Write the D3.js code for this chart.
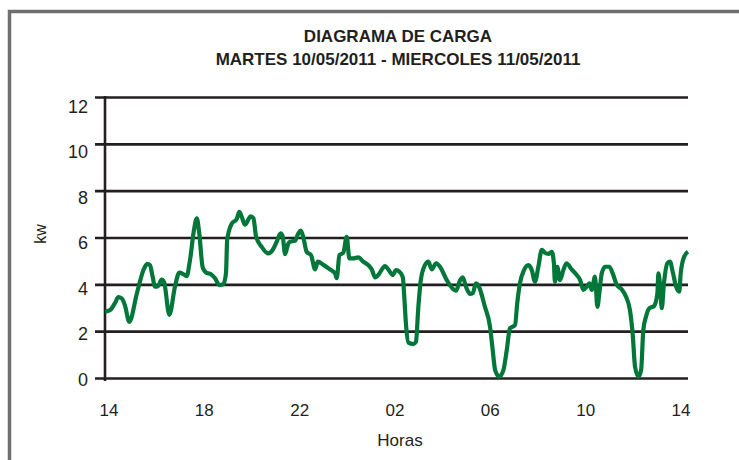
<!DOCTYPE html>
<html>
<head>
<meta charset="utf-8">
<script src="https://cdn.jsdelivr.net/npm/d3@7"></script>
<style>
  html, body { margin: 0; padding: 0; background: #fff; }
  svg text { font-family: "Liberation Sans", Arial, sans-serif; fill: #231f20; }
</style>
</head>
<body>
<div id="chart"></div>
<script>
// hours since 14:00 on Tuesday, and load in kW
var hours = [
  0, 0.21, 0.41, 0.55, 0.69, 0.82, 1.0, 1.31, 1.58, 1.74, 1.85, 1.96, 2.06, 2.19,
  2.33, 2.43, 2.65, 2.88, 3.06, 3.22, 3.36, 3.5, 3.66, 3.78, 3.88, 4.02, 4.16, 4.35,
  4.53, 4.71, 4.87, 4.98, 5.03, 5.22, 5.42, 5.53, 5.64, 5.76, 6.0, 6.11, 6.22, 6.45,
  6.72, 6.9, 7.07, 7.23, 7.32, 7.41, 7.55, 7.62, 7.82, 7.96, 8.06, 8.16, 8.3, 8.48,
  8.65, 8.76, 8.99, 9.26, 9.47, 9.54, 9.65, 9.81, 9.95, 10.06, 10.22, 10.43, 10.63,
  10.88, 10.98, 11.12, 11.25, 11.53, 11.66, 11.84, 11.98, 12.12, 12.26, 12.32, 12.39,
  12.49, 12.69, 12.8, 12.9, 13.0, 13.17, 13.31, 13.45, 13.63, 13.79, 14.07, 14.34,
  14.45, 14.62, 14.73, 14.86, 15.03, 15.14, 15.27, 15.37, 15.64, 15.85, 15.96, 16.06,
  16.23, 16.4, 16.54, 16.67, 16.88, 16.97, 17.08, 17.25, 17.43, 17.57, 17.7, 17.84,
  17.98, 18.11, 18.25, 18.39, 18.48, 18.52, 18.62, 18.73, 18.87, 19.0, 19.21, 19.42,
  19.56, 19.69, 19.83, 19.94, 20.04, 20.17, 20.27, 20.35, 20.45, 20.59, 20.76, 20.9,
  21.07, 21.27, 21.45, 21.61, 21.72, 21.82, 21.96, 22.07, 22.16, 22.27, 22.41, 22.6,
  22.74, 22.78, 22.85, 22.92, 23.01, 23.15, 23.26, 23.37, 23.51, 23.64, 23.7, 23.84, 24.0
];
var kw = [
  2.83, 2.9, 3.2, 3.45, 3.4, 3.1, 2.4, 3.6, 4.6, 4.87, 4.82, 4.33, 3.9, 3.93,
  4.2, 4.1, 2.7, 3.9, 4.5, 4.44, 4.35, 5.04, 6.3, 6.82, 6.18, 4.73, 4.5, 4.44,
  4.26, 3.97, 4.0, 4.47, 5.9, 6.6, 6.78, 7.1, 6.85, 6.55, 6.9, 6.82, 6.03, 5.6,
  5.32, 5.47, 5.82, 6.18, 6.03, 5.29, 5.75, 5.82, 5.86, 6.18, 6.29, 6.03, 5.39, 5.25,
  4.64, 4.97, 4.83, 4.64, 4.47, 4.26, 5.25, 5.35, 6.03, 5.11, 5.11, 5.15, 4.97,
  4.78, 4.64, 4.3, 4.4, 4.78, 4.64, 4.4, 4.61, 4.54, 4.3, 3.47, 2.3,
  1.51, 1.45, 1.55, 3.04, 4.18, 4.82, 4.97, 4.64, 4.9, 4.75, 4.18, 3.79,
  3.73, 4.18, 4.3, 3.9, 3.59, 3.62, 4.04, 3.95, 3.04, 2.19, 1.2, 0.34,
  0.06, 0.34, 1.2, 2.12, 2.26, 3.19, 4.04, 4.61, 4.82, 4.61, 4.11, 4.75,
  5.47, 5.35, 5.3, 5.39, 4.9, 4.11, 4.75, 4.18, 4.61, 4.9, 4.64, 4.4,
  4.18, 3.76, 3.9, 4.04, 3.76, 4.33, 3.04, 3.62, 4.47, 4.75, 4.75, 4.47,
  3.97, 3.79, 3.47, 2.9, 1.91, 0.48, 0.06, 0.34, 2.05, 2.62, 2.98, 3.07,
  3.62, 4.47, 3.97, 2.98, 4.04, 4.9, 4.97, 4.54, 3.9, 3.69, 4.47, 5.18, 5.39
];

var xTickLabels = ["14", "18", "22", "02", "06", "10", "14"];
var xTickHours = [0, 4, 8, 12, 16, 20, 24];
var yTicks = [0, 2, 4, 6, 8, 10, 12];

var titleLines = ["DIAGRAMA DE CARGA", "MARTES 10/05/2011 - MIERCOLES 11/05/2011"];

document.addEventListener("DOMContentLoaded", function() {
  var W = 739, H = 460;
  var plot = {left: 105, right: 688, top: 97, bottom: 378};
  var ink = "#231f20";
  var green = "#03773a";

  var svg = d3.select("#chart").append("svg")
      .attr("width", W)
      .attr("height", H);

  // grey frame, top and left only
  svg.append("path")
    .attr("d", "M9.5,460 L9.5,11.5 L739,11.5")
    .attr("fill", "none")
    .attr("stroke", "#6f6f6f")
    .attr("stroke-width", 3.5);

  var x = d3.scaleLinear().domain([0, 24]).range([plot.left, plot.right]);
  var y = d3.scaleLinear().domain([0, 12]).range([plot.bottom, plot.top]);

  // the tick labels in the original sit a little inside the grid
  var xLab = d3.scaleLinear().domain([0, 24]).range([109, 681]);
  var yLab = d3.scaleLinear().domain([0, 12]).range([379.5, 106.5]);

  // horizontal grid lines via an axis
  var grid = svg.append("g")
    .attr("transform", "translate(" + (plot.left - 10) + ",0)")
    .call(d3.axisLeft(y)
      .tickValues(yTicks)
      .tickSize(-(plot.right - plot.left + 10))
      .tickFormat(""));
  grid.select(".domain").remove();
  grid.selectAll(".tick line")
    .attr("stroke", ink)
    .attr("stroke-width", 2.6);

  // vertical axis line
  svg.append("line")
    .attr("x1", x(0)).attr("x2", x(0))
    .attr("y1", y(12) - 1).attr("y2", y(0) + 3)
    .attr("stroke", ink)
    .attr("stroke-width", 2.6);

  svg.append("g").selectAll("text")
    .data(yTicks)
    .join("text")
      .attr("x", 88)
      .attr("y", d => yLab(d))
      .attr("dy", "0.36em")
      .attr("text-anchor", "end")
      .style("font-size", "18px")
      .text(d => d);

  svg.append("g").selectAll("text")
    .data(xTickHours)
    .join("text")
      .attr("x", d => xLab(d))
      .attr("y", 416)
      .attr("text-anchor", "middle")
      .style("font-size", "17px")
      .text((d, i) => xTickLabels[i]);

  svg.append("text")
    .attr("x", 400)
    .attr("y", 446)
    .attr("text-anchor", "middle")
    .style("font-size", "17px")
    .text("Horas");

  svg.append("text")
    .attr("transform", "translate(46,234) rotate(-90)")
    .attr("text-anchor", "middle")
    .style("font-size", "16px")
    .text("kw");

  svg.append("g").selectAll("text")
    .data(titleLines)
    .join("text")
      .attr("x", 398)
      .attr("y", (d, i) => 42 + i * 23)
      .attr("text-anchor", "middle")
      .style("font-size", "17px")
      .style("font-weight", "bold")
      .text(d => d);

  var line = d3.line()
      .x((d, i) => x(hours[i]))
      .y(d => y(d))
      .curve(d3.curveMonotoneX);

  svg.append("path")
    .attr("fill", "none")
    .attr("stroke", green)
    .attr("stroke-width", 4.2)
    .attr("stroke-linejoin", "round")
    .attr("d", line(kw));
});
</script>
</body>
</html>
